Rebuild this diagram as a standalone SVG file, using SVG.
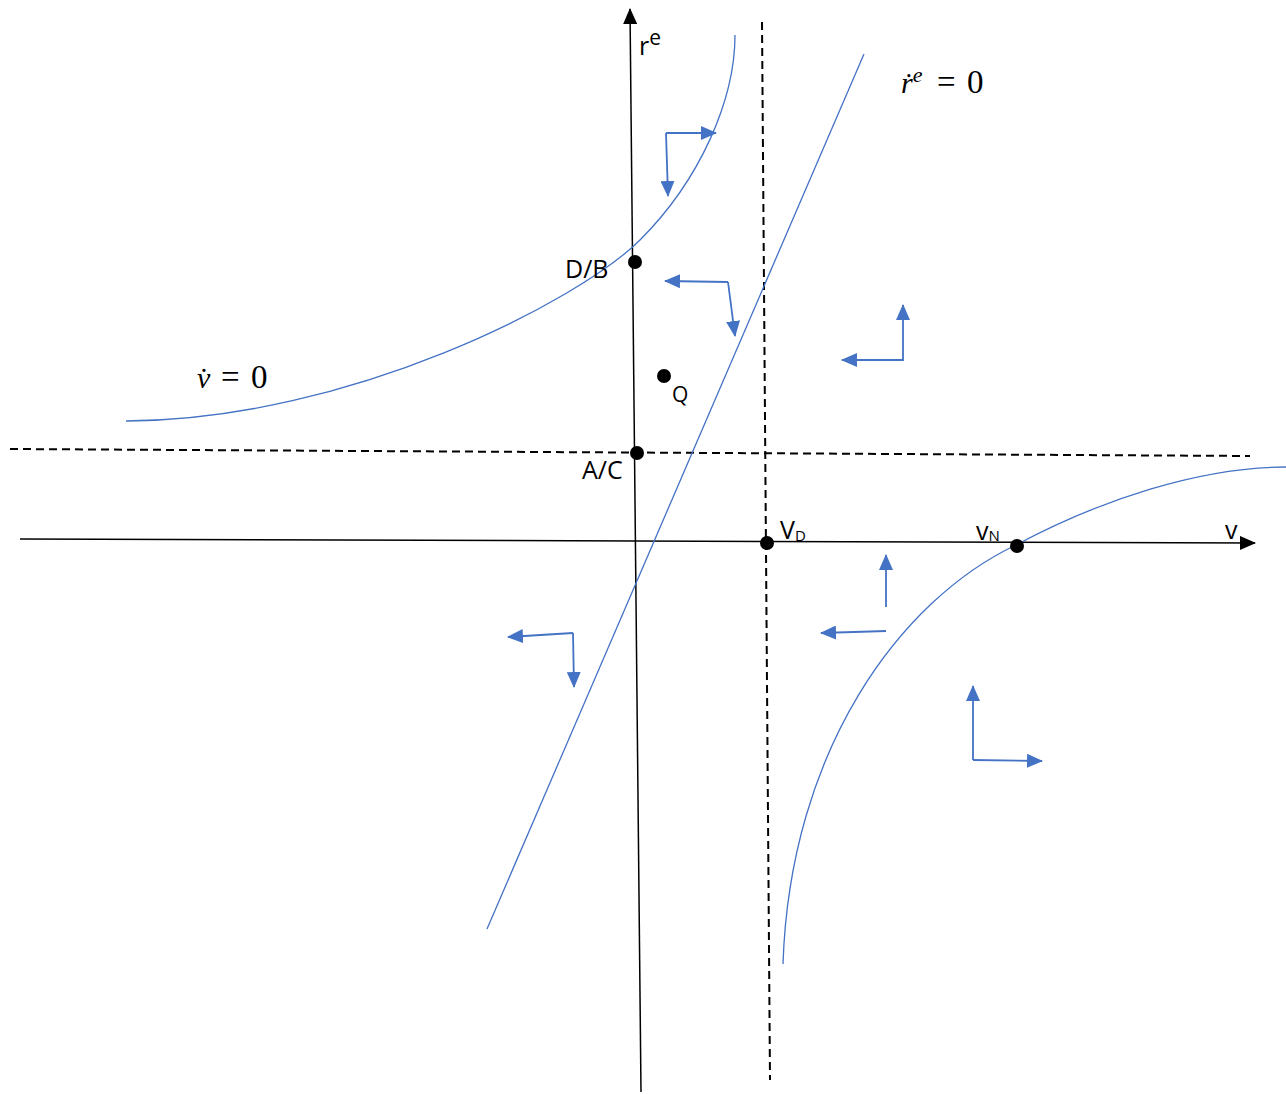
<svg xmlns="http://www.w3.org/2000/svg" width="1286" height="1094" viewBox="0 0 1286 1094">
<style>
.ax{stroke:#000;stroke-width:1.5;fill:none}
.dash{stroke:#000;stroke-width:2;fill:none;stroke-dasharray:8,5}
.blue{stroke:#4472C4;stroke-width:1.3;fill:none}
.arr{stroke:#4472C4;stroke-width:1.8;fill:none;marker-end:url(#ba)}
.lbl{font-family:"Open Sans","Liberation Sans",sans-serif;font-size:25px;fill:#000}
.sub{font-family:"Open Sans","Liberation Sans",sans-serif;font-size:15px;fill:#000}
.math{font-family:"Liberation Serif",serif;font-size:30px;fill:#000}
.big{font-size:33px}
.dot{fill:#000}
</style>
<defs>
<marker id="ka" markerUnits="userSpaceOnUse" markerWidth="16" markerHeight="14" refX="15" refY="7" orient="auto">
<path d="M0,0 L16,7 L0,14 z" fill="#000"/>
</marker>
<marker id="ba" markerUnits="userSpaceOnUse" markerWidth="16" markerHeight="14" refX="15" refY="7" orient="auto">
<path d="M0,0 L16,7 L0,14 z" fill="#4472C4"/>
</marker>
</defs>
<g id="connectors">
<line class="ax" x1="641" y1="1092" x2="630" y2="9" marker-end="url(#ka)"/>
<line class="ax" x1="20" y1="539" x2="1255" y2="543" marker-end="url(#ka)"/>
<line class="dash" x1="10" y1="449" x2="1250" y2="456"/>
<line class="dash" x1="762" y1="22" x2="770" y2="1080"/>
<line class="blue" x1="487" y1="929" x2="864" y2="54"/>
<path class="blue" d="M126,421 C350,420 580,300 640,240 C700,180 735,100 735,35"/>
<path class="blue" d="M783,964 C790,750 900,600 1016,545 C1100,500 1200,467 1286,467"/>
<line class="arr" x1="666" y1="133" x2="716" y2="133"/>
<line class="arr" x1="666" y1="133" x2="668" y2="196"/>
<line class="arr" x1="728" y1="282" x2="665" y2="281"/>
<line class="arr" x1="728" y1="282" x2="735" y2="336"/>
<line class="arr" x1="903" y1="361" x2="903" y2="305"/>
<line class="arr" x1="903" y1="360" x2="842" y2="360"/>
<line class="arr" x1="573" y1="633" x2="508" y2="637"/>
<line class="arr" x1="573" y1="633" x2="574" y2="687"/>
<line class="arr" x1="886" y1="607" x2="886" y2="555"/>
<line class="arr" x1="886" y1="631" x2="821" y2="633"/>
<line class="arr" x1="973" y1="760" x2="973" y2="686"/>
<line class="arr" x1="973" y1="760" x2="1042" y2="761"/>
</g>
<g id="node-DB"><circle class="dot" cx="635" cy="262" r="7"/><text class="lbl" x="565" y="278">D/B</text></g>
<g id="node-AC"><circle class="dot" cx="637" cy="453" r="7"/><text class="lbl" x="582" y="479">A/C</text></g>
<g id="node-Q"><circle class="dot" cx="664" cy="376" r="7"/><text class="lbl" x="672" y="402" style="font-size:21px">Q</text></g>
<g id="node-VD"><circle class="dot" cx="767" cy="543" r="7"/><text class="lbl" x="780" y="539">V<tspan class="sub" dy="2">D</tspan></text></g>
<g id="node-vN"><circle class="dot" cx="1017" cy="546" r="7"/><text class="lbl" x="976" y="540">v<tspan class="sub" dy="1">N</tspan></text></g>
<g id="labels">
<text class="lbl" x="639" y="55">r<tspan dy="-10" style="font-size:21px">e</tspan></text>
<text class="lbl" x="1225" y="539">v</text>
<text class="math" x="901" y="93"><tspan font-style="italic">ṙ</tspan><tspan font-style="italic" dy="-11" style="font-size:22px">e</tspan><tspan class="big" dy="11" x="937">=</tspan><tspan class="big" x="967">0</tspan></text>
<text class="math" x="197" y="388"><tspan font-style="italic">v̇</tspan><tspan class="big" x="221">=</tspan><tspan class="big" x="251">0</tspan></text>
</g>
</svg>
